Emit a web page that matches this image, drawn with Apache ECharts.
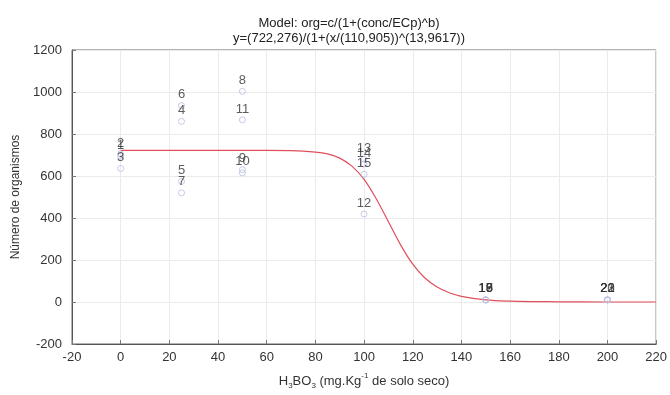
<!DOCTYPE html>
<html>
<head>
<meta charset="utf-8">
<script src="https://cdn.jsdelivr.net/npm/echarts@6/dist/echarts.min.js"></script>
<style>
  html, body { margin: 0; padding: 0; background: #fff; }
  #chart { width: 670px; height: 395px; }
</style>
</head>
<body>
<div id="chart"></div>
<script>
// observations (label, concentration, count)
const pointIds = ["1", "2", "3", "4", "5", "6", "7", "8", "9", "10", "11", "12",
  "13", "14", "15", "16", "17", "18", "19", "20", "21", "22", "23"];
const pointX = [0, 0, 0, 25, 25, 25, 25, 50, 50, 50, 50, 100, 100, 100, 100,
  150, 150, 150, 150, 200, 200, 200, 200];
const pointY = [695, 705, 636, 860, 574, 935, 520, 1003, 630, 615, 867, 419, 680, 657, 608,
  10, 10, 10, 10, 10, 10, 10, 10];

// fitted curve
const curveX = [0, 20, 40, 60, 70, 80, 85, 90, 95, 100, 105, 110, 115, 120, 125, 130,
  135, 140, 150, 160, 170, 180, 200, 220];
const curveY = [722, 722, 722, 722, 721, 714, 705, 685, 647, 584, 492, 382, 272, 180, 114, 71,
  44, 27, 10, 4, 2, 1, 0, 0];

const xTicks = { min: -20, max: 220, step: 20 };
const yTicks = { min: -200, max: 1200, step: 200 };

const chart = echarts.init(document.getElementById("chart"));

const font = "Liberation Sans, Arial, sans-serif";

chart.setOption({
  animation: false,
  textStyle: { fontFamily: font },
  title: {
    text: "Model: org=c/(1+(conc/ECp)^b)\ny=(722,276)/(1+(x/(110,905))^(13,9617))",
    left: 344,
    top: 11,
    textAlign: "center",
    textStyle: { fontSize: 13, fontWeight: "normal", color: "#222", lineHeight: 15, fontFamily: font },
  },
  grid: {
    left: 72,
    right: 13,
    top: 50,
    bottom: 43,
    show: true,
    borderColor: "#666",
    borderWidth: 1,
  },
  xAxis: {
    type: "value",
    min: xTicks.min,
    max: xTicks.max,
    interval: xTicks.step,
    name: "{n|H}{s|3}{n|BO}{s|3}{n| (mg.Kg}{p|-1}{n| de solo seco)}",
    nameLocation: "middle",
    nameGap: 28,
    nameTextStyle: {
      rich: {
        n: { fontSize: 13, color: "#333", lineHeight: 18, fontFamily: font },
        s: { fontSize: 8, color: "#333", verticalAlign: "bottom", lineHeight: 18, fontFamily: font },
        p: { fontSize: 8, color: "#333", verticalAlign: "top", lineHeight: 18, fontFamily: font },
      },
    },
    axisLine: { onZero: false, lineStyle: { color: "#555" } },
    axisTick: { inside: true, length: 4, lineStyle: { color: "#777" } },
    axisLabel: { color: "#333", fontSize: 13, margin: 7 },
    splitLine: { show: true, lineStyle: { color: "#ebebeb" } },
  },
  yAxis: {
    type: "value",
    min: yTicks.min,
    max: yTicks.max,
    interval: yTicks.step,
    name: "Número de organismos",
    nameLocation: "middle",
    nameGap: 50,
    nameTextStyle: { fontSize: 12, color: "#333" },
    axisLine: { show: true, onZero: false, lineStyle: { color: "#555" } },
    axisTick: { show: true, inside: true, length: 4, lineStyle: { color: "#777" } },
    axisLabel: { color: "#333", fontSize: 13, margin: 10, formatter: (v) => String(v) },
    splitLine: { show: true, lineStyle: { color: "#ebebeb" } },
  },
  series: [
    {
      name: "Modelo",
      type: "line",
      data: curveX.map((x, i) => [x, curveY[i]]),
      smooth: 0.3,
      showSymbol: false,
      lineStyle: { color: "#e0505c", width: 1.2 },
      z: 2,
    },
    {
      name: "Observado",
      type: "scatter",
      data: pointX.map((x, i) => ({ value: [x, pointY[i]], name: pointIds[i] })),
      symbol: "circle",
      symbolSize: 6,
      itemStyle: { color: "rgba(255,255,255,0)", borderColor: "#b9bde2", borderWidth: 1 },
      label: {
        show: true,
        position: "top",
        distance: 1,
        formatter: (p) => p.name,
        color: "#333",
        fontSize: 13,
      },
      z: 3,
    },
  ],
});
</script>
</body>
</html>
